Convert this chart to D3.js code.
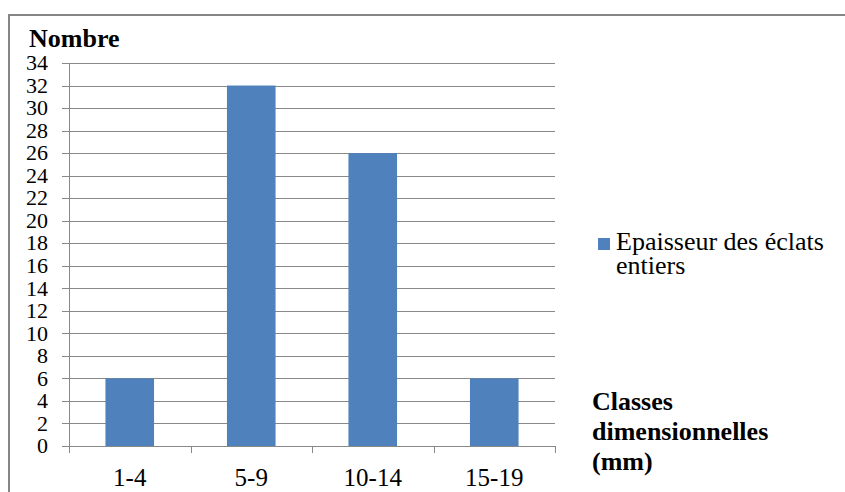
<!DOCTYPE html>
<html><head><meta charset="utf-8">
<script src="https://cdn.jsdelivr.net/npm/d3@7"></script>
<style>body{margin:0;background:#fff}svg{display:block}svg text{font-family:"Liberation Serif","Times New Roman",Tinos,serif}</style>
</head><body><svg id="c" width="845" height="492" font-family="Liberation Serif"></svg>
<script>
const categories = ["1-4", "5-9", "10-14", "15-19"];
const values = [6, 32, 26, 6];
const yTicks = d3.range(0, 35, 2);
const seriesName = ["Epaisseur des éclats", "entiers"];
const yTitle = "Nombre";
const xTitle = ["Classes", "dimensionnelles", "(mm)"];

(function () {
const svg = d3.select("#c");
const pL = 69, pR = 555, pT = 63, pB = 446;
const x = d3.scaleBand().domain(categories).range([pL, pR]).paddingInner(0.6).paddingOuter(0.3);
const xb = d3.scaleBand().domain(categories).range([pL, pR]);
const y = d3.scaleLinear().domain([0, 34]).range([pB, pT]);

svg.append("path").attr("d", `M9,492 V15 H845`).attr("fill", "none").attr("stroke", "#868686").attr("stroke-width", 2);

svg.append("g").selectAll("line").data(yTicks).join("line")
  .attr("x1", pL - 7).attr("x2", pR)
  .attr("y1", d => Math.round(y(d)) + 0.5).attr("y2", d => Math.round(y(d)) + 0.5)
  .attr("stroke", "#888").attr("stroke-width", 1);
svg.append("line").attr("x1", pL + 0.5).attr("x2", pL + 0.5).attr("y1", pT).attr("y2", pB)
  .attr("stroke", "#888");
const xt = categories.map(c => xb(c)).concat([pR]);
svg.append("g").selectAll("line").data(xt).join("line")
  .attr("x1", d => Math.round(d) + 0.5).attr("x2", d => Math.round(d) + 0.5)
  .attr("y1", pB).attr("y2", pB + 7).attr("stroke", "#888");

svg.append("g").selectAll("rect").data(values).join("rect")
  .attr("x", (d, i) => x(categories[i])).attr("width", x.bandwidth())
  .attr("y", d => y(d)).attr("height", d => y(0) - y(d))
  .attr("fill", "#4F81BD");

const T = sel => sel.attr("font-family", "Liberation Serif").style("font-family", "Liberation Serif").attr("fill", "#000");

T(svg.append("g").selectAll("text").data(yTicks).join("text")
  .attr("x", 48).attr("y", d => y(d)).attr("dy", "0.33em")
  .attr("text-anchor", "end").attr("font-size", 22).text(d => d));

T(svg.append("g").selectAll("text").data(categories).join("text")
  .attr("x", d => xb(d) + xb.bandwidth() / 2).attr("y", 486)
  .attr("text-anchor", "middle").attr("font-size", 25).text(d => d));

T(svg.append("text").attr("x", 29).attr("y", 47).attr("font-size", 26).attr("font-weight", "bold").text(yTitle));
T(svg.append("g").selectAll("text").data(xTitle).join("text")
  .attr("x", 592).attr("y", (d, i) => 410 + i * 30)
  .attr("font-size", 26).attr("font-weight", "bold").text(d => d));

svg.append("rect").attr("x", 598).attr("y", 238).attr("width", 12).attr("height", 12).attr("fill", "#4F81BD");
T(svg.append("g").selectAll("text").data(seriesName).join("text")
  .attr("x", 616).attr("y", (d, i) => 250 + i * 24)
  .attr("font-size", 26).text(d => d));
})();
</script></body></html>
